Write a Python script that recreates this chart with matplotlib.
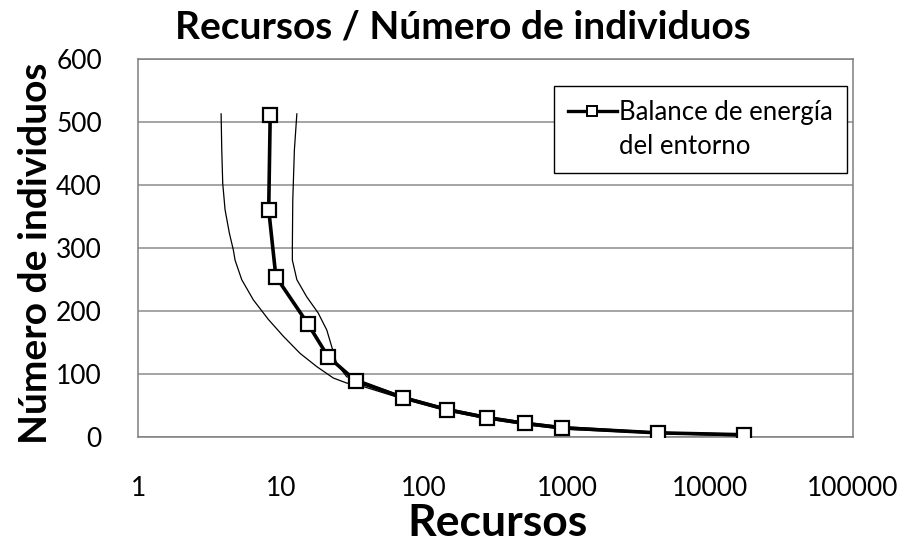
import numpy as np
import matplotlib.pyplot as plt
from matplotlib.lines import Line2D

# main series: resources vs number of individuos
recursos = [8.4, 8.2, 9.2, 15.4, 21.3, 33.5, 71, 144, 277, 507, 924, 4330, 17400]
individuos = [512, 361, 255, 180, 128, 89, 63, 44, 31, 22, 15, 7, 4]

# thin envelope lines
env_low_x = [3.81, 3.85, 3.91, 4.06, 4.35, 4.64, 4.77, 5.31, 6.40, 8.15, 10.4, 13.6,
             17.8, 23.2, 28.8, 33.5, 71, 144, 277, 507, 924, 4330, 17400]
env_low_y = [513, 456, 403, 361, 324, 297, 281, 250, 218, 187, 160, 133,
             112, 94, 86, 84, 61, 42, 29, 20, 13, 6, 2]
env_up_x = [12.9, 12.4, 12.08, 12.0, 12.0, 12.9, 15.1, 18.2, 20.9, 22.6, 24.5, 28.8,
            33.8, 71, 144, 277, 507, 924, 4330, 17400]
env_up_y = [513, 456, 376, 302, 281, 250, 223, 197, 170, 144, 117, 96,
            92, 65, 46, 33, 24, 17, 8, 5]

xticks = [1, 10, 100, 1000, 10000, 100000]
yticks = [0, 100, 200, 300, 400, 500, 600]

plt.rcParams['font.family'] = ['Lato', 'DejaVu Sans']

fig = plt.figure(figsize=(9.04, 5.43), dpi=100)
ax = fig.add_axes([0.1527, 0.1947, 0.7909, 0.6966])

ax.plot(env_low_x, env_low_y, color='black', lw=0.9, zorder=3)
ax.plot(env_up_x, env_up_y, color='black', lw=0.9, zorder=3)
ax.plot(recursos, individuos, color='black', lw=2.6, marker='s', markersize=10,
        markerfacecolor='white', markeredgecolor='black', markeredgewidth=1.6,
        zorder=4)

ax.set_xscale('log')
ax.set_xlim(1, 100000)
ax.set_ylim(0, 600)
ax.set_xticks(xticks)
ax.set_xticklabels([str(v) for v in xticks])
ax.minorticks_off()
ax.set_yticks(yticks)
ax.tick_params(axis='both', length=0, labelsize=19)
ax.tick_params(axis='x', pad=28)
ax.tick_params(axis='y', pad=26)
ax.grid(axis='y', color='#8c8c8c', lw=1.1)
ax.set_axisbelow(True)
for s in ax.spines.values():
    s.set_color('#7f7f7f')
    s.set_linewidth(1.1)

handle = Line2D([], [], color='black', lw=2.4, marker='s', markersize=7,
                markerfacecolor='white', markeredgecolor='black', markeredgewidth=1.4)
blank = Line2D([], [], color='none')
leg = ax.legend([handle, blank], ['Balance de energía', 'del entorno'],
                loc='upper right', bbox_to_anchor=(0.9916, 0.929), fontsize=18.5,
                frameon=True, fancybox=False, edgecolor='black', framealpha=1,
                handlelength=1.9, handletextpad=0.1, borderpad=0.55, labelspacing=0.35,
                borderaxespad=0)
leg.get_frame().set_linewidth(1.0)

fig.text(0.512, 0.950, 'Recursos / Número de individuos', ha='center', va='center',
         fontsize=28, fontweight='bold')
fig.text(0.55, 0.037, 'Recursos', ha='center', va='center', fontsize=32, fontweight='bold')
fig.text(0.039, 0.534, 'Número de individuos', ha='center', va='center', rotation=90,
         fontsize=28, fontweight='bold')

fig.savefig('out.png', dpi=100)
